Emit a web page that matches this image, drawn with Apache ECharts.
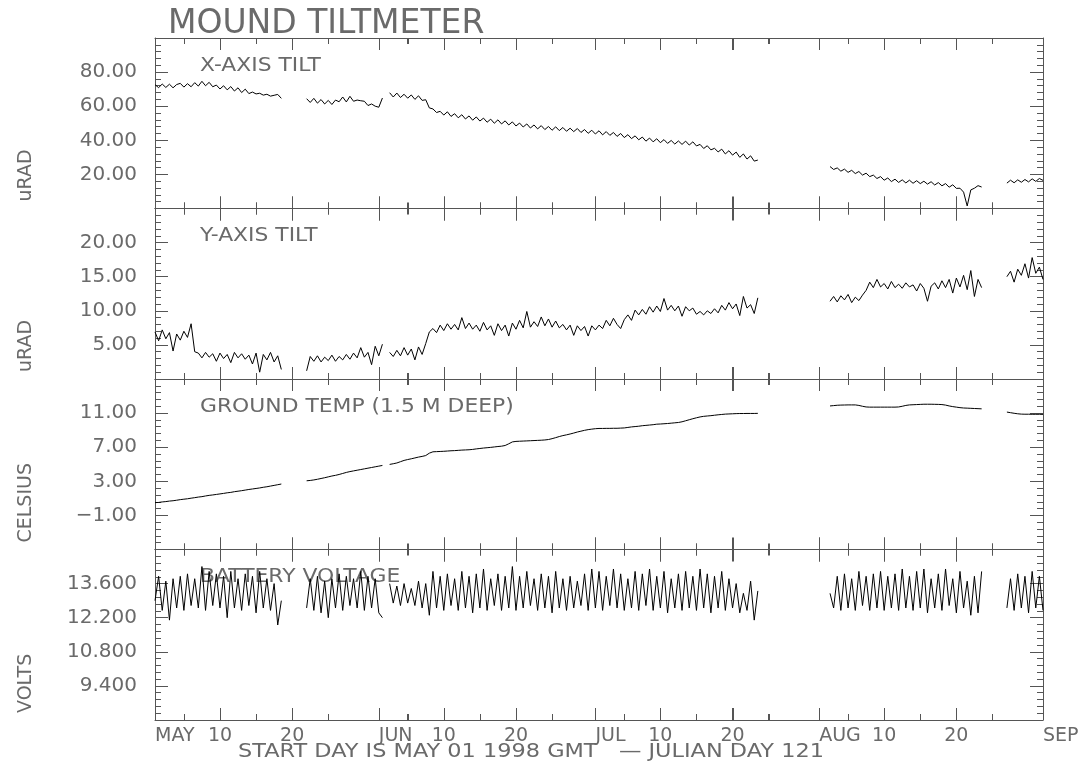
<!DOCTYPE html>
<html>
<head>
<meta charset="utf-8">
<title>MOUND TILTMETER</title>
<script src="https://cdn.jsdelivr.net/npm/echarts@6/dist/echarts.min.js"></script>
<style>
  html, body { margin: 0; padding: 0; background: #fff; }
  #chart { width: 1091px; height: 769px; }
</style>
</head>
<body>
<div id="chart"></div>
<script>
// Time is counted in days from 1998-05-01 00:00 GMT (day 0) to 1998-09-01 (day 123).
const SAMPLE_STEP = 0.5;                         // days between stored samples
const segmentStart = [0, 21, 32.5, 93.5, 118];   // first sample day of each recording block

// x-axis ticks and labels
const monthDays = [0, 31, 61, 92, 123];
const monthLabels = ['MAY', 'JUN', 'JUL', 'AUG', 'SEP'];
const dayTickDays = [9, 19, 40, 50, 70, 80, 101, 111];
const dayTickLabels = ['10', '20', '10', '20', '10', '20', '10', '20'];
const minorTickDays = [4, 14, 24, 35, 45, 55, 65, 75, 85, 96, 106, 116];
const majorTickDays = [0, 9, 19, 31, 40, 50, 61, 70, 80, 92, 101, 111, 123];

// X-axis tilt, uRAD
const xTilt = [
  [72.6, 70.9, 73.0, 71.0, 72.9, 70.8, 72.7, 73.4, 71.2, 73.2, 71.4, 73.8, 71.8, 74.6, 72.0, 74.0, 71.4, 72.4,
   70.1, 72.0, 69.6, 71.5, 68.9, 70.8, 68.0, 70.0, 67.4, 68.3, 67.2, 67.6, 66.5, 67.0, 65.9, 66.4, 66.9, 64.6],
  [64.4, 62.2, 64.6, 61.8, 63.9, 61.3, 63.4, 61.0, 63.6, 62.6, 65.4, 62.5, 65.8, 62.9, 63.6, 63.2, 62.9, 60.4,
   61.3, 60.0, 59.4, 64.8],
  [67.9, 65.4, 67.7, 65.1, 67.0, 64.7, 66.6, 64.0, 66.1, 63.4, 63.8, 59.0, 58.4, 56.3, 57.0, 54.8, 56.7, 54.0,
   55.6, 53.2, 55.0, 52.5, 54.3, 51.8, 53.7, 51.3, 53.0, 50.6, 52.4, 50.0, 52.0, 49.6, 51.4, 49.0, 50.8, 48.4,
   50.1, 47.8, 49.6, 47.2, 49.0, 46.7, 48.6, 46.3, 48.1, 45.9, 47.9, 45.7, 47.5, 45.3, 47.1, 45.1, 46.9, 44.6,
   46.3, 44.1, 45.9, 43.7, 45.6, 43.2, 45.1, 42.9, 44.6, 42.3, 44.0, 41.6, 43.3, 41.0, 42.6, 40.3, 41.9, 39.5,
   41.3, 39.1, 40.9, 38.6, 40.4, 38.2, 39.9, 37.8, 39.6, 37.6, 39.5, 37.2, 39.1, 36.7, 37.6, 35.2, 36.8, 34.4,
   35.3, 33.2, 34.8, 32.0, 33.9, 31.3, 33.1, 30.0, 32.0, 29.0, 30.9, 27.8, 28.4],
  [24.6, 22.9, 23.8, 21.9, 23.1, 21.2, 22.4, 20.5, 21.7, 19.6, 20.7, 18.7, 19.6, 17.6, 18.7, 16.6, 17.9, 15.8,
   17.2, 15.3, 16.8, 15.0, 16.6, 14.8, 16.3, 14.6, 16.0, 14.3, 15.7, 13.8, 15.2, 13.3, 14.6, 12.5, 13.9, 11.8,
   11.9, 9.6, 1.5, 10.9, 11.9, 13.4, 12.6],
  [14.9, 16.6, 15.1, 16.8, 15.4, 17.0, 15.6, 17.4, 15.9, 17.6, 16.5]
];

// Y-axis tilt, uRAD
const yTilt = [
  [6.9, 5.6, 7.2, 5.9, 6.8, 4.1, 6.6, 5.7, 7.0, 6.1, 8.1, 4.0, 3.8, 3.1, 3.9, 3.2, 3.7, 2.6,
   3.8, 3.0, 3.6, 2.4, 3.9, 3.1, 3.7, 2.9, 3.5, 2.2, 3.8, 1.0, 3.6, 2.8, 3.9, 2.5, 3.4, 1.4],
  [1.2, 3.3, 2.6, 3.4, 2.5, 3.2, 2.7, 3.5, 2.6, 3.3, 2.8, 3.6, 2.9, 3.8, 3.1, 4.6, 3.2, 3.9,
   2.1, 4.8, 3.4, 5.1],
  [3.9, 3.3, 4.2, 3.4, 4.6, 3.5, 4.4, 2.8, 4.7, 3.6, 5.2, 6.9, 7.4, 6.8, 7.9, 7.1, 8.1, 7.3,
   8.0, 7.2, 9.0, 7.4, 8.2, 7.3, 7.9, 7.0, 8.3, 7.2, 7.8, 6.4, 8.1, 7.1, 7.9, 6.3, 8.2, 7.3,
   8.6, 7.5, 9.9, 7.6, 8.4, 7.7, 9.1, 7.8, 8.8, 7.6, 8.5, 7.5, 8.0, 7.2, 7.9, 6.4, 7.8, 7.1,
   7.7, 6.3, 7.8, 7.2, 7.9, 7.4, 8.6, 7.8, 8.9, 8.0, 7.4, 8.7, 9.4, 8.6, 10.1, 9.4, 10.2, 9.5,
   10.6, 9.8, 10.7, 9.9, 11.8, 10.1, 10.8, 10.0, 10.7, 9.2, 10.6, 10.0, 10.4, 9.5, 9.9, 9.4, 10.0, 9.6,
   10.3, 9.7, 10.8, 10.1, 11.2, 10.3, 11.0, 9.3, 12.1, 10.4, 10.9, 9.6, 11.9],
  [11.4, 12.1, 11.3, 12.2, 11.6, 12.4, 11.2, 12.0, 11.5, 12.3, 13.0, 14.2, 13.4, 14.6, 13.5, 14.0, 13.2, 14.3,
   13.4, 13.9, 13.3, 14.1, 13.5, 13.8, 12.9, 14.0, 13.3, 11.4, 13.6, 14.1, 13.2, 14.4, 13.4, 14.6, 12.6, 14.8,
   13.5, 15.2, 13.1, 15.9, 12.1, 14.6, 13.4],
  [15.0, 15.8, 14.2, 16.1, 15.2, 16.9, 14.8, 17.8, 15.5, 16.4, 14.6]
];

// Ground temperature at 1.5 m depth, Celsius
const groundTemp = [
  [0.50, 0.52, 0.58, 0.62, 0.68, 0.72, 0.78, 0.85, 0.90, 0.95, 1.02, 1.08, 1.15, 1.20, 1.28, 1.35, 1.40, 1.46,
   1.52, 1.58, 1.65, 1.70, 1.78, 1.84, 1.90, 1.97, 2.04, 2.10, 2.16, 2.22, 2.30, 2.36, 2.44, 2.52, 2.60, 2.68],
  [3.06, 3.10, 3.16, 3.24, 3.33, 3.42, 3.52, 3.62, 3.70, 3.80, 3.92, 4.04, 4.14, 4.22, 4.30, 4.38, 4.46, 4.54,
   4.62, 4.70, 4.78, 4.86],
  [4.98, 5.06, 5.15, 5.30, 5.45, 5.55, 5.64, 5.74, 5.84, 5.92, 6.02, 6.30, 6.46, 6.48, 6.50, 6.52, 6.55, 6.58,
   6.60, 6.63, 6.66, 6.68, 6.70, 6.74, 6.80, 6.85, 6.90, 6.94, 6.98, 7.03, 7.08, 7.12, 7.20, 7.40, 7.62, 7.68,
   7.70, 7.72, 7.74, 7.76, 7.78, 7.80, 7.82, 7.85, 7.90, 8.00, 8.12, 8.25, 8.36, 8.45, 8.55, 8.66, 8.78, 8.88,
   8.98, 9.06, 9.12, 9.17, 9.20, 9.20, 9.21, 9.21, 9.22, 9.22, 9.24, 9.26, 9.32, 9.38, 9.42, 9.46, 9.52, 9.56,
   9.60, 9.64, 9.70, 9.72, 9.75, 9.78, 9.82, 9.86, 9.90, 9.98, 10.10, 10.22, 10.34, 10.45, 10.55, 10.62, 10.66, 10.70,
   10.75, 10.80, 10.84, 10.88, 10.90, 10.92, 10.94, 10.95, 10.95, 10.96, 10.96, 10.96, 10.97],
  [11.84, 11.88, 11.92, 11.94, 11.95, 11.96, 11.96, 11.96, 11.90, 11.80, 11.72, 11.70, 11.70, 11.70, 11.70, 11.70, 11.70, 11.70,
   11.70, 11.72, 11.80, 11.90, 11.96, 11.98, 12.00, 12.02, 12.04, 12.04, 12.04, 12.03, 12.02, 12.00, 11.94, 11.84, 11.76, 11.70,
   11.64, 11.60, 11.58, 11.56, 11.54, 11.52, 11.50],
  [11.12, 11.05, 10.98, 10.92, 10.88, 10.87, 10.87, 10.86, 10.86, 10.86, 10.85]
];

// Battery voltage, volts
const batteryVolts = [
  [12.9, 13.9, 12.5, 13.7, 12.1, 13.8, 12.6, 13.9, 12.5, 14.0, 12.7, 13.8, 12.6, 14.3, 12.5, 14.1, 12.7, 14.0,
   12.6, 13.9, 12.2, 14.1, 12.6, 13.8, 12.5, 14.0, 12.7, 13.9, 12.4, 14.1, 12.6, 13.8, 12.5, 13.6, 11.9, 12.9],
  [12.6, 13.8, 12.5, 13.9, 12.4, 13.7, 12.2, 13.8, 12.6, 14.0, 12.5, 13.9, 12.7, 13.8, 12.6, 14.1, 12.5, 13.9,
   12.6, 13.8, 12.4, 12.2],
  [13.6, 12.8, 13.5, 12.7, 13.6, 12.8, 13.4, 12.7, 13.7, 12.6, 13.6, 12.3, 14.1, 12.6, 13.9, 12.5, 14.0, 12.7,
   13.8, 12.5, 14.1, 12.6, 13.9, 12.4, 14.0, 12.6, 14.2, 12.5, 13.8, 12.7, 14.0, 12.5, 13.9, 12.6, 14.3, 12.5,
   13.9, 12.6, 14.1, 12.7, 13.8, 12.5, 14.0, 12.6, 13.9, 12.4, 14.1, 12.6, 13.8, 12.5, 13.9, 12.6, 13.7, 12.7,
   14.0, 12.5, 14.2, 12.6, 14.1, 12.5, 13.9, 12.7, 14.2, 12.6, 14.0, 12.5, 13.8, 12.6, 14.1, 12.5, 14.0, 12.7,
   14.2, 12.5, 13.9, 12.6, 14.1, 12.4, 13.8, 12.6, 14.0, 12.5, 14.1, 12.6, 13.9, 12.5, 14.2, 12.6, 14.0, 12.4,
   13.9, 12.6, 14.1, 12.5, 13.8, 12.6, 13.6, 12.4, 13.2, 12.5, 13.7, 12.1, 13.3],
  [13.2, 12.6, 13.9, 12.5, 14.0, 12.6, 13.8, 12.5, 14.1, 12.7, 13.9, 12.5, 14.0, 12.6, 14.1, 12.5, 13.9, 12.6,
   14.0, 12.5, 14.2, 12.6, 13.9, 12.5, 14.1, 12.6, 14.2, 12.4, 13.8, 12.6, 14.0, 12.5, 14.2, 12.7, 13.8, 12.4,
   14.1, 12.6, 13.7, 12.3, 13.9, 12.4, 14.1],
  [12.6, 13.8, 12.5, 14.0, 12.6, 13.9, 12.4, 14.1, 12.6, 13.9, 12.5]
];

// Per-panel captions and value scales
const panelTitles = ['X-AXIS TILT', 'Y-AXIS TILT', 'GROUND TEMP (1.5 M DEEP)', 'BATTERY VOLTAGE'];
const axisNames = ['uRAD', 'uRAD', 'CELSIUS', 'VOLTS'];
const yMin = [0, 0, -5, 8];
const yMax = [100, 25, 15, 15];
const yStep = [20, 5, 4, 1.4];
const yDigits = [2, 2, 2, 3];
const panelSeries = [xTilt, yTilt, groundTemp, batteryVolts];

const FONT = '"DejaVu Sans", "Liberation Sans", sans-serif';
const TEXT = '#6a6a6a';
const LINE = '#555';
const MAJOR_LEN = 12, MINOR_LEN = 6;

const PLOT_LEFT = 155, PLOT_RIGHT = 48, PLOT_TOP = 38, PANEL_H = 170.5;
const panelTop = i => PLOT_TOP + i * PANEL_H;

// tick list for the time axis: [day, 1 = major / 0 = minor]
const timeTicks = majorTickDays.map(d => [d, 1]).concat(minorTickDays.map(d => [d, 0]));

// one time axis (panel frame edge) carrying one set of tick marks
function dayAxis(p, position, ticks, len, showLine) {
  return {
    gridIndex: p, type: 'value', min: 0, max: 123, position: position,
    axisLine: { show: showLine, onZero: false, lineStyle: { color: LINE, width: 1 } },
    axisTick: { show: true, inside: true, length: len, customValues: ticks, lineStyle: { color: LINE, width: 1 } },
    axisLabel: { show: true, customValues: ticks, formatter: () => '' },
    splitLine: { show: false }
  };
}

// time ticks on the bottom and top edge of a panel, placed through the panel's own scales
function timeTickRenderer(p) {
  return function (params, api) {
    const day = api.value(0);
    const len = api.value(1) ? MAJOR_LEN : MINOR_LEN;
    const low = api.coord([day, yMin[p]]);
    const high = api.coord([day, yMax[p]]);
    const x = Math.round(low[0]) + 0.5;
    const style = { stroke: LINE, lineWidth: 1 };
    return {
      type: 'group',
      children: [
        { type: 'line', shape: { x1: x, y1: low[1], x2: x, y2: low[1] - len }, style: style },
        { type: 'line', shape: { x1: x, y1: high[1], x2: x, y2: high[1] + len }, style: style }
      ]
    };
  };
}

const grid = [], xAxis = [], yAxis = [], series = [];
for (let p = 0; p < 4; p++) {
  grid.push({ left: PLOT_LEFT, right: PLOT_RIGHT, top: panelTop(p), height: PANEL_H, containLabel: false });
  const base = xAxis.length;
  xAxis.push(dayAxis(p, 'bottom', majorTickDays, MAJOR_LEN, true));
  xAxis.push(dayAxis(p, 'bottom', minorTickDays, MINOR_LEN, false));
  xAxis.push(dayAxis(p, 'top', majorTickDays, MAJOR_LEN, true));
  xAxis.push(dayAxis(p, 'top', minorTickDays, MINOR_LEN, false));

  const yb = yAxis.length;
  const digits = yDigits[p];
  ['left', 'right'].forEach(side => {
    yAxis.push({
      gridIndex: p, type: 'value', position: side,
      min: yMin[p], max: yMax[p], interval: yStep[p],
      axisLine: { show: true, onZero: false, lineStyle: { color: LINE } },
      splitLine: { show: false },
      axisTick: { show: true, inside: true, length: 13 },
      minorTick: { show: true, splitNumber: 5, length: 6 },
      axisLabel: side === 'left' ? {
        show: true, showMinLabel: false, showMaxLabel: false, margin: 18,
        padding: [0, 0, 6, 0], fontFamily: FONT, fontSize: 20, color: TEXT,
        formatter: v => v.toFixed(digits).replace('-', '\u2212')
      } : { show: false }
    });
  });

  panelSeries[p].forEach((seg, s) => {
    series.push({
      type: 'line', xAxisIndex: base, yAxisIndex: yb, symbol: 'none',
      data: seg.map((v, i) => [segmentStart[s] + i * SAMPLE_STEP, v]),
      lineStyle: { color: '#000', width: 1 }
    });
  });

  series.push({
    type: 'custom', xAxisIndex: base, yAxisIndex: yb, silent: true, clip: false, z: 3,
    encode: { x: 0 },
    renderItem: timeTickRenderer(p),
    data: timeTicks
  });
}

// date labels under the bottom panel: day numbers centred, month names starting at their tick
xAxis.push({
  gridIndex: 3, type: 'value', min: 0, max: 123, position: 'bottom',
  axisLine: { show: false, onZero: false }, axisTick: { show: true, length: 0 }, splitLine: { show: false },
  axisLabel: {
    show: true, customValues: dayTickDays, margin: 7, fontFamily: FONT, fontSize: 19, color: TEXT,
    formatter: v => dayTickLabels[dayTickDays.findIndex(d => Math.abs(d - v) < 0.01)] || ''
  }
});
xAxis.push({
  gridIndex: 3, type: 'value', min: 0, max: 123, position: 'bottom',
  axisLine: { show: false, onZero: false }, axisTick: { show: true, length: 0 }, splitLine: { show: false },
  axisLabel: {
    show: true, customValues: monthDays, align: 'left', margin: 7, fontFamily: FONT, fontSize: 19, color: TEXT,
    formatter: v => monthLabels[monthDays.findIndex(d => Math.abs(d - v) < 0.01)] || ''
  }
});

const graphic = [];
for (let p = 0; p < 4; p++) {
  graphic.push({
    type: 'text', x: 200, y: panelTop(p) + 28, scaleX: 1.15,
    style: { text: panelTitles[p], fontFamily: FONT, fontSize: 19, fill: TEXT, align: 'left', verticalAlign: 'middle' }
  });
  graphic.push({
    type: 'text', x: 26, y: panelTop(p) + PANEL_H - 7, rotation: Math.PI / 2,
    style: { text: axisNames[p], fontFamily: FONT, fontSize: 19, fill: TEXT, align: 'left', verticalAlign: 'middle' }
  });
}
graphic.push({
  type: 'text', x: 238, y: 752, scaleX: 1.18,
  style: { text: 'START DAY IS MAY 01 1998 GMT   \u2014 JULIAN DAY 121', fontFamily: FONT, fontSize: 19,
           fill: TEXT, align: 'left', verticalAlign: 'middle' }
});

const chart = echarts.init(document.getElementById('chart'));
chart.setOption({
  animation: false,
  title: {
    text: 'MOUND TILTMETER', left: 163, top: 3,
    textStyle: { fontFamily: FONT, fontSize: 33, fontWeight: 'normal', color: TEXT }
  },
  grid, xAxis, yAxis, series, graphic
});
</script>
</body>
</html>
